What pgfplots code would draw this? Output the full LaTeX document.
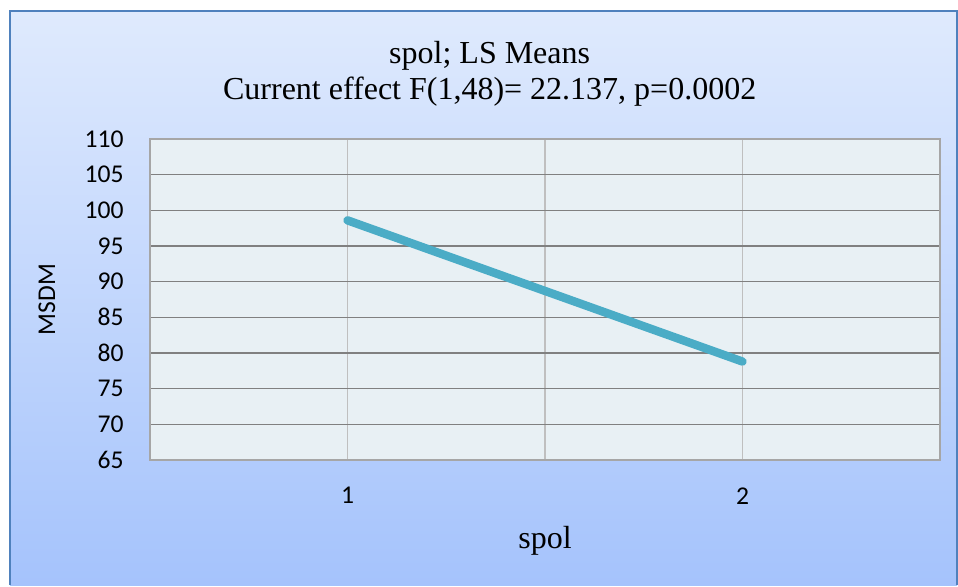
\documentclass[border=0pt]{standalone}
\usepackage{pgfplots}
\pgfplotsset{compat=1.18}
\usepackage{fontspec}
\setmainfont{Liberation Serif}
\newfontfamily\calibri{Carlito}
\definecolor{bgtop}{HTML}{DFEAFD}
\definecolor{bgbot}{HTML}{A5C3FC}
\definecolor{bordercol}{HTML}{4F81BD}
\definecolor{plotbg}{HTML}{E8F0F4}
\definecolor{linecol}{HTML}{4BACC6}
\begin{document}
\begin{tikzpicture}[x=0.5pt,y=0.5pt]
\fill[white] (0,0) rectangle (958,585);
\shade[top color=bgtop,bottom color=bgbot] (10,0) rectangle (957,574);
\draw[bordercol,line width=1pt] (10,0)--(10,574)--(957,574)--(957,0);
\useasboundingbox (0,0) rectangle (958,585);
\begin{axis}[
  at={(75pt,62.5pt)}, anchor=south west,
  scale only axis, width=395pt, height=160.5pt,
  xmin=0.5, xmax=2.5, ymin=65, ymax=110,
  xtick={1,1.5,2}, xticklabels={1,,2},
  ytick={65,70,...,110},
  major tick length=0pt,
  /pgf/number format/assume math mode=true,
  ticklabel style={font=\calibri\fontsize{12.8}{14}\selectfont, text=black},
  xticklabel style={anchor=north, inner sep=0pt, yshift=-13.5pt},
  yticklabel style={anchor=east, inner sep=0pt, xshift=-13pt},
  axis background/.style={fill=plotbg},
  axis line style={draw=black!35, line width=0.75pt},
  xmajorgrids, ymajorgrids,
  x grid style={draw=black!25, line width=0.75pt},
  y grid style={draw=black!50, line width=0.75pt},
  xlabel={spol}, ylabel={MSDM},
  every axis x label/.style={at={(axis description cs:0.5,-0.2523)}, anchor=center, font=\fontsize{16}{18}\selectfont},
  every axis y label/.style={at={(axis description cs:-0.1304,0.5)}, rotate=90, anchor=center, font=\calibri\fontsize{12.8}{14}\selectfont},
  title={spol; LS Means\\Current effect F(1,48)= 22.137, p=0.0002},
  title style={at={(axis description cs:0.430,1.0)}, anchor=south, align=center, yshift=7pt, font=\fontsize{16}{18}\selectfont},
]
\addplot[linecol, line width=4.2pt, line cap=round, line join=round] coordinates {(1,98.6) (2,78.8)};
\end{axis}
\end{tikzpicture}
\end{document}
